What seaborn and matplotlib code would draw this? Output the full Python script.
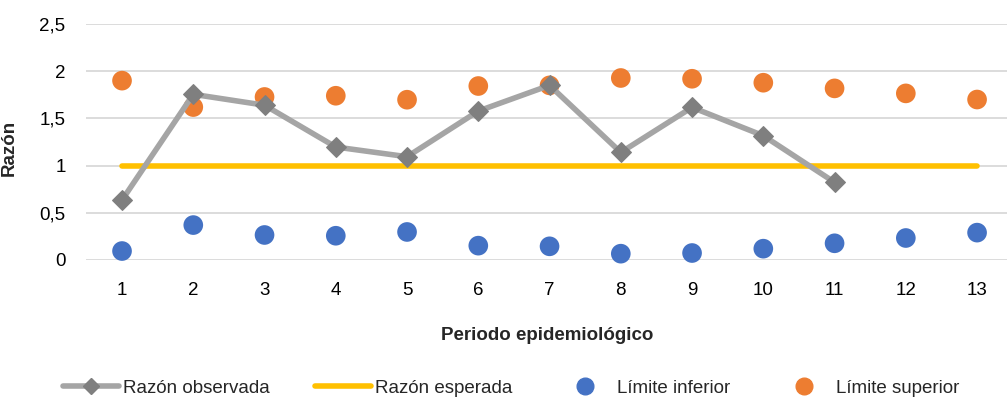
import matplotlib
matplotlib.use("Agg")
import matplotlib.pyplot as plt
from matplotlib.lines import Line2D
import seaborn as sns
import pandas as pd

periodos = list(range(1, 14))
razon_observada = [0.635, 1.755, 1.64, 1.197, 1.094, 1.578, 1.85, 1.14, 1.617, 1.317, 0.823]
razon_esperada = [1.0] * 13
limite_inferior = [0.095, 0.37, 0.265, 0.257, 0.297, 0.152, 0.145, 0.067, 0.074, 0.12, 0.177, 0.233, 0.29]
limite_superior = [1.90, 1.62, 1.727, 1.74, 1.698, 1.843, 1.85, 1.928, 1.92, 1.878, 1.818, 1.765, 1.70]
y_ticks = [0, 0.5, 1, 1.5, 2, 2.5]
y_tick_labels = ["0", "0,5", "1", "1,5", "2", "2,5"]

sns.set_theme(style="white")
plt.rcParams["font.family"] = ["Liberation Sans Narrow", "Liberation Sans", "DejaVu Sans"]

GRIS_LINEA = "#A5A5A5"
GRIS_MARCA = "#7F7F7F"
AMARILLO = "#FFC000"
AZUL = "#4472C4"
NARANJA = "#ED7D31"

fig = plt.figure(figsize=(10.07, 4.08), dpi=100)
ax = fig.add_axes([86.4 / 1007, 1 - 260 / 408, (1007 - 86.4) / 1007, (260 - 24) / 408])

df_obs = pd.DataFrame({"periodo": periodos[:len(razon_observada)], "razon": razon_observada})
df_esp = pd.DataFrame({"periodo": periodos, "razon": razon_esperada})
df_inf = pd.DataFrame({"periodo": periodos, "razon": limite_inferior})
df_sup = pd.DataFrame({"periodo": periodos, "razon": limite_superior})

for y in y_ticks:
    ax.axhline(y, color="#D9D9D9", lw=1.3, zorder=0)

sns.lineplot(data=df_esp, x="periodo", y="razon", ax=ax, color=AMARILLO, lw=4,
             solid_capstyle="round", zorder=2)
sns.scatterplot(data=df_inf, x="periodo", y="razon", ax=ax, color=AZUL, s=200,
                edgecolor="none", zorder=3, clip_on=False)
sns.scatterplot(data=df_sup, x="periodo", y="razon", ax=ax, color=NARANJA, s=200,
                edgecolor="none", zorder=3, clip_on=False)
sns.lineplot(data=df_obs, x="periodo", y="razon", ax=ax, color=GRIS_LINEA, lw=4,
             marker="D", markersize=10, markerfacecolor=GRIS_MARCA,
             markeredgecolor=GRIS_MARCA, zorder=4)

ax.set_xlim(0.5, 13.42)
ax.set_ylim(0, 2.5)
ax.set_xticks(periodos)
ax.set_xticklabels([str(p) for p in periodos], fontsize=13.5, color="#000000")
ax.set_yticks(y_ticks)
ax.set_yticklabels(y_tick_labels, fontsize=13.5, color="#000000")
ax.tick_params(axis="x", length=0, pad=16)
ax.tick_params(axis="y", length=0, pad=15)
for s in ax.spines.values():
    s.set_visible(False)
ax.grid(False)

ax.set_xlabel("Periodo epidemiológico", fontsize=13.5, fontweight="bold", labelpad=20)
ax.set_ylabel("Razón", fontsize=13.5, fontweight="bold")
ax.yaxis.set_label_coords((18 - 86.4) / 920.6, (260 - 148) / 236)

handles = [
    Line2D([], [], color=GRIS_LINEA, lw=4, marker="D", markersize=8,
           markerfacecolor=GRIS_MARCA, markeredgecolor=GRIS_MARCA),
    Line2D([], [], color=AMARILLO, lw=4),
    Line2D([], [], color=AZUL, lw=0, marker="o", markersize=12),
    Line2D([], [], color=NARANJA, lw=0, marker="o", markersize=12),
]
labels = ["Razón observada", "Razón esperada", "Límite inferior", "Límite superior"]
fig.legend(handles, labels, loc="center", bbox_to_anchor=(511 / 1007, 1 - 388 / 408),
           ncol=4, frameon=False, fontsize=13.5, handlelength=3.0, handletextpad=0.2,
           columnspacing=2.4)

fig.savefig("out.png", dpi=100)
